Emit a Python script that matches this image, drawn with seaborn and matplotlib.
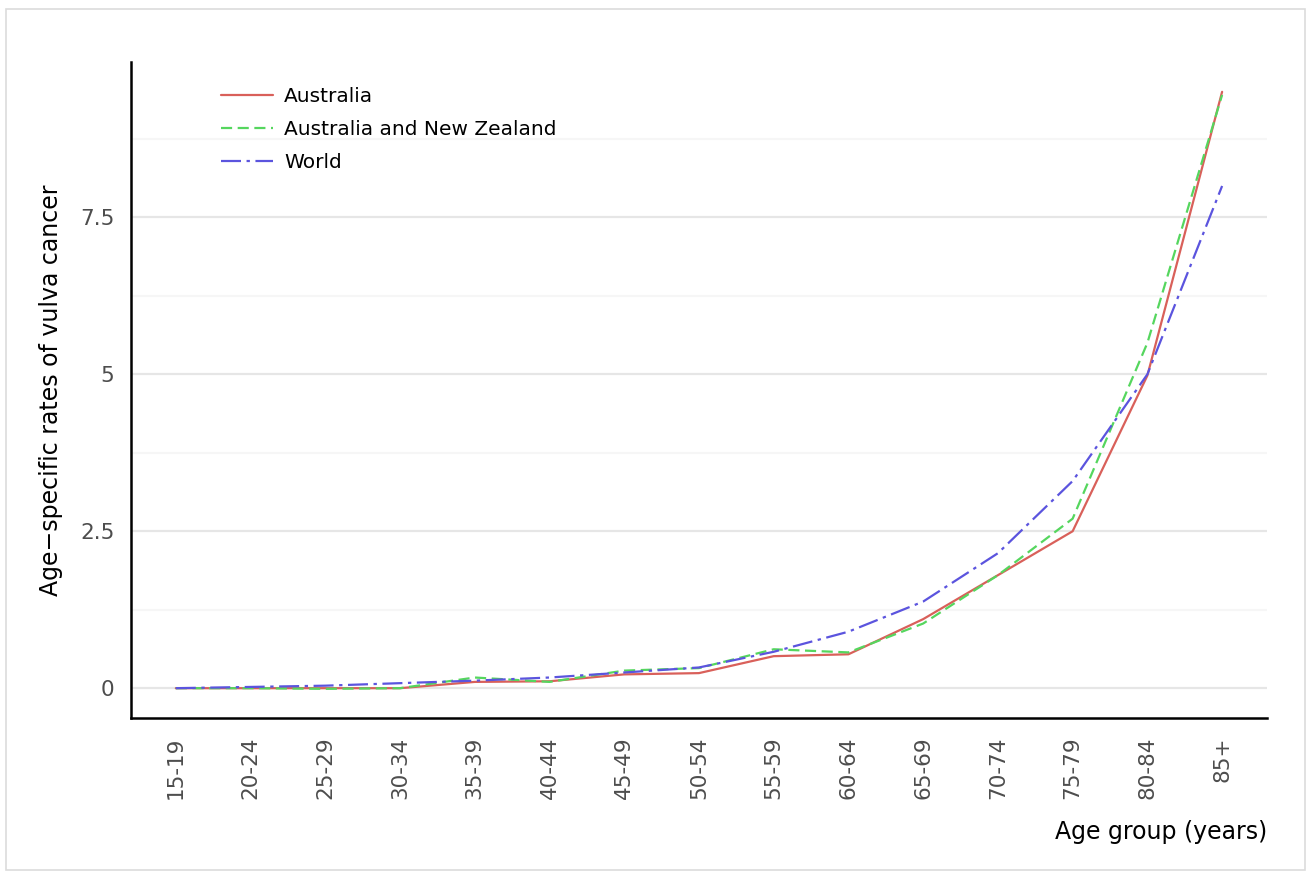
import pandas as pd
import matplotlib
matplotlib.use("Agg")
import matplotlib.pyplot as plt
from matplotlib.patches import Rectangle
import seaborn as sns

# age groups and rates
age_groups = ["15-19", "20-24", "25-29", "30-34", "35-39", "40-44", "45-49",
              "50-54", "55-59", "60-64", "65-69", "70-74", "75-79", "80-84", "85+"]
australia = [0.0, 0.0, 0.0, 0.0, 0.10, 0.11, 0.22, 0.24, 0.51, 0.54, 1.10, 1.80, 2.50, 4.98, 9.50]
anz = [0.0, 0.0, -0.01, 0.0, 0.17, 0.10, 0.28, 0.32, 0.62, 0.57, 1.03, 1.80, 2.70, 5.50, 9.45]
world = [0.0, 0.02, 0.04, 0.08, 0.12, 0.17, 0.25, 0.33, 0.58, 0.90, 1.38, 2.15, 3.30, 5.00, 8.00]
regions = ["Australia", "Australia and New Zealand", "World"]

df = pd.DataFrame({
    "age": age_groups * 3,
    "rate": australia + anz + world,
    "region": [r for r in regions for _ in age_groups],
})

palette = {"Australia": "#d9605a", "Australia and New Zealand": "#55d65e", "World": "#5b54de"}
dashes = {"Australia": "", "Australia and New Zealand": (5, 2.5), "World": (9, 2.5, 1.5, 2.5)}

sns.set_style("white")
plt.rcParams["font.family"] = ["DejaVu Sans"]
plt.rcParams["text.color"] = "black"
plt.rcParams["axes.labelcolor"] = "black"

fig, ax = plt.subplots(figsize=(13.11, 8.72), dpi=100)
fig.subplots_adjust(left=0.0999, right=0.9664, top=0.9289, bottom=0.1766)

sns.lineplot(data=df, x="age", y="rate", hue="region", style="region",
             palette=palette, dashes=dashes, linewidth=1.6, ax=ax)

# grid like ggplot: major + faint minor horizontal lines
ax.set_ylim(-0.475, 9.975)
ax.set_xlim(-0.6, len(age_groups) - 0.4)
ax.set_yticks([0, 2.5, 5, 7.5])
ax.set_yticklabels(["0", "2.5", "5", "7.5"])
ax.set_yticks([1.25, 3.75, 6.25, 8.75], minor=True)
ax.yaxis.grid(True, which="major", color="#e6e6e6", linewidth=1.6)
ax.yaxis.grid(True, which="minor", color="#f6f6f6", linewidth=1.6)
ax.xaxis.grid(False)
ax.set_axisbelow(True)

for side in ["top", "right"]:
    ax.spines[side].set_visible(False)
for side in ["left", "bottom"]:
    ax.spines[side].set_color("black")
    ax.spines[side].set_linewidth(1.8)

ax.tick_params(axis="both", which="major", direction="out", length=5.5, width=1.8,
               color="black", labelsize=15.5, labelcolor="#4d4d4d", pad=6.5)
ax.tick_params(axis="x", which="major", pad=8)
ax.tick_params(axis="y", which="minor", length=0)
plt.setp(ax.get_xticklabels(), rotation=90)

ax.set_xlabel("Age group (years)", loc="right", fontsize=17, labelpad=15)
ax.set_ylabel("Age\u2212specific rates of vulva cancer", fontsize=17, labelpad=12)

sns.move_legend(ax, "upper left", bbox_to_anchor=(0.063, 0.99), title=None,
                frameon=False, fontsize=14.5, handlelength=2.6, handletextpad=0.55,
                labelspacing=0.7)

# light border around the whole figure
fig.patches.append(Rectangle((6 / 1311, 2 / 872), 1299 / 1311, 861 / 872,
                             transform=fig.transFigure, fill=False,
                             edgecolor="#dcdcdc", linewidth=1.2))

plt.savefig("out.png", dpi=100)
